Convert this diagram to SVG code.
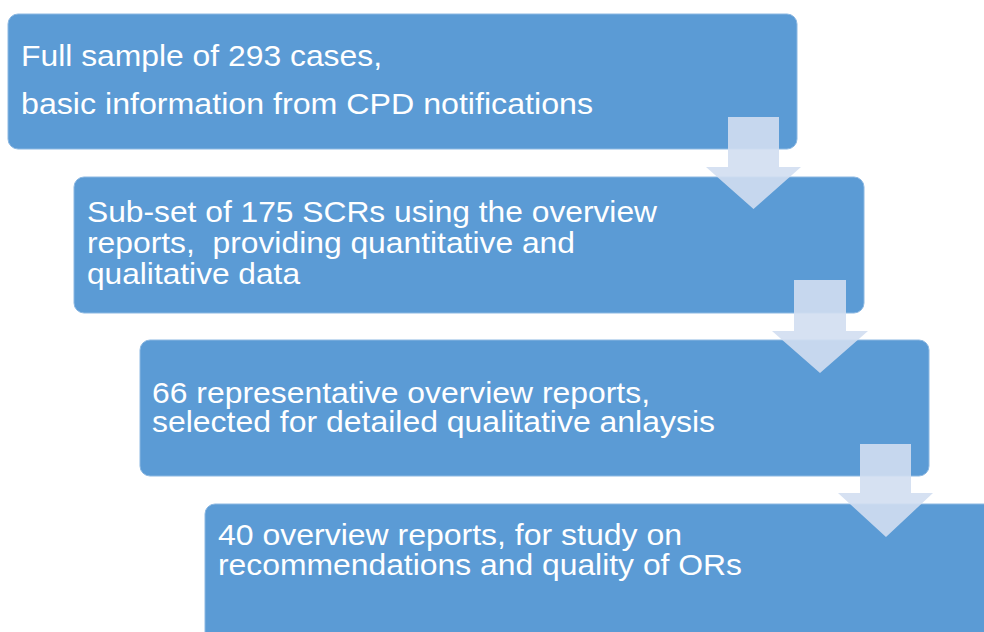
<svg xmlns="http://www.w3.org/2000/svg" width="984" height="632" viewBox="0 0 984 632">
<style>
.box{fill:#5b9bd5;stroke:#8cb8e2;stroke-width:1}
.t{font-family:"Liberation Sans",Arial,sans-serif;font-size:30px;fill:#ffffff;white-space:pre}
.arr{fill:#d2def1;fill-opacity:0.9}
</style>
<rect width="984" height="632" fill="#ffffff"/>
<g id="node1">
<rect class="box" x="8" y="14" width="789" height="135" rx="10"/>
<text class="t" x="21" y="66" textLength="361" lengthAdjust="spacingAndGlyphs">Full sample of 293 cases,</text>
<text class="t" x="21" y="114" textLength="572" lengthAdjust="spacingAndGlyphs">basic information from CPD notifications</text>
</g>
<g id="node2">
<rect class="box" x="74" y="177" width="790" height="136" rx="10"/>
<text class="t" x="87" y="221.5" textLength="570" lengthAdjust="spacingAndGlyphs">Sub-set of 175 SCRs using the overview</text>
<text class="t" x="87" y="252.5" textLength="488" lengthAdjust="spacingAndGlyphs">reports,  providing quantitative and</text>
<text class="t" x="87" y="284" textLength="213" lengthAdjust="spacingAndGlyphs">qualitative data</text>
</g>
<g id="node3">
<rect class="box" x="140" y="340" width="789" height="136" rx="10"/>
<text class="t" x="152" y="403" textLength="498" lengthAdjust="spacingAndGlyphs">66 representative overview reports,</text>
<text class="t" x="152" y="432" textLength="563" lengthAdjust="spacingAndGlyphs">selected for detailed qualitative anlaysis</text>
</g>
<g id="node4">
<rect class="box" x="205" y="504" width="800" height="150" rx="10"/>
<text class="t" x="218" y="545" textLength="464" lengthAdjust="spacingAndGlyphs">40 overview reports, for study on</text>
<text class="t" x="218" y="575" textLength="524" lengthAdjust="spacingAndGlyphs">recommendations and quality of ORs</text>
</g>
<g id="connectors">
<polygon class="arr" points="728,117 779,117 779,167 801,167 753.5,209 706,167 728,167"/>
<polygon class="arr" points="794,280 846,280 846,331 868,331 820,373 772,331 794,331"/>
<polygon class="arr" points="860,444 911,444 911,493 933,493 886,537 838,493 860,493"/>
</g>
</svg>
